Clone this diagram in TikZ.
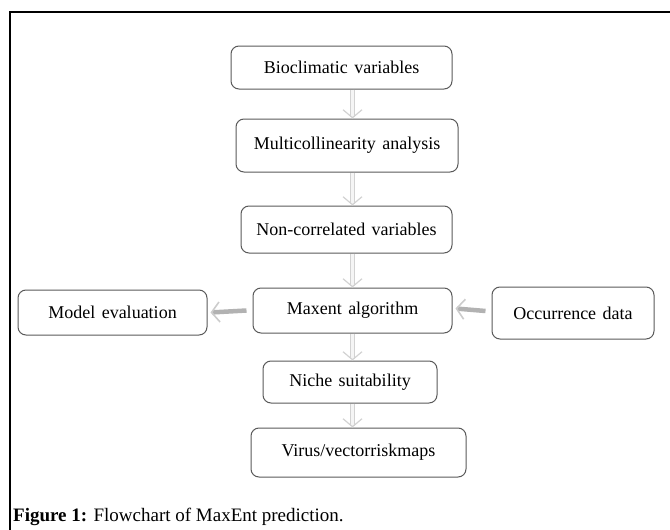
\documentclass[tikz,border=0pt]{standalone}
\usepackage{fontspec}
\setmainfont{Liberation Serif}
\usepackage{tikz}
\usetikzlibrary{arrows.meta, calc}
\definecolor{Boxline}{rgb}{0.35,0.35,0.35}
\newcommand{\boxfont}{\fontsize{18}{21}\selectfont\spaceskip=6.5pt\relax}

\begin{document}
\begin{tikzpicture}[x=1pt, y=-1pt,
    stepbox/.style={draw=Boxline, line width=1pt, rounded corners=8pt, align=center,
      inner sep=0pt, font=\boxfont},
    flowdown/.style={draw=gray!35, double=gray!8, double distance=3.5pt, line width=1pt,
      -{Straight Barb[length=8pt, width=19pt, line width=1.2pt, color=gray!35]}},
    flowside/.style={draw=gray!60, line width=4.5pt,
      -{Straight Barb[length=8pt, width=20pt, line width=1.6pt, color=gray!40]}}]
      \useasboundingbox (0,0) rectangle (670,530);
      % frame
      \draw[line width=1.4pt] (670,12) -- (10,12) -- (10,530);

      \node[stepbox, minimum width=221pt, minimum height=43pt] (bio) at (341.5,67.5) {Bioclimatic variables};
      \node[stepbox, minimum width=222pt, minimum height=53pt] (multi) at (347,145.5) {Multicollinearity analysis};
      \node[stepbox, minimum width=211pt, minimum height=47pt] (noncor) at (346.5,229.5) {Non-correlated variables};
      \node[stepbox, minimum width=199pt, minimum height=45pt] (maxent) at (352.5,310.5) {Maxent algorithm};
      \node[stepbox, minimum width=189pt, minimum height=45pt] (model) at (112.5,312.5) {Model evaluation};
      \node[stepbox, minimum width=162pt, minimum height=52pt] (occ) at (573,313) {Occurrence data};
      \node[stepbox, minimum width=174pt, minimum height=42pt] (niche) at (350,382) {Niche suitability};
      \node[stepbox, minimum width=215pt, minimum height=49pt] (virus) at (358.5,452.5) {Virus/vectorriskmaps};

      \draw[flowdown] (bio.south -| maxent.north) -- (multi.north -| maxent.north);
      \draw[flowdown] (multi.south -| maxent.north) -- (noncor.north -| maxent.north);
      \draw[flowdown] (noncor.south -| maxent.north) -- (maxent.north);
      \draw[flowdown] (maxent.south) -- (niche.north -| maxent.south);
      \draw[flowdown] (niche.south -| maxent.south) -- (virus.north -| maxent.south);
      \draw[flowside] ($(occ.west)+(-6,-2)$) -- ($(maxent.east)+(3,-2)$);
      \draw[flowside] ($(maxent.west)+(-6,0)$) -- ($(model.east)+(3,0)$);

      \node[anchor=base west, inner sep=0pt, font=\fontsize{19}{22}\selectfont] (caption) at (13,521)
        {\textbf{Figure 1:} Flowchart of MaxEnt prediction.};
    \end{tikzpicture}
\end{document}
